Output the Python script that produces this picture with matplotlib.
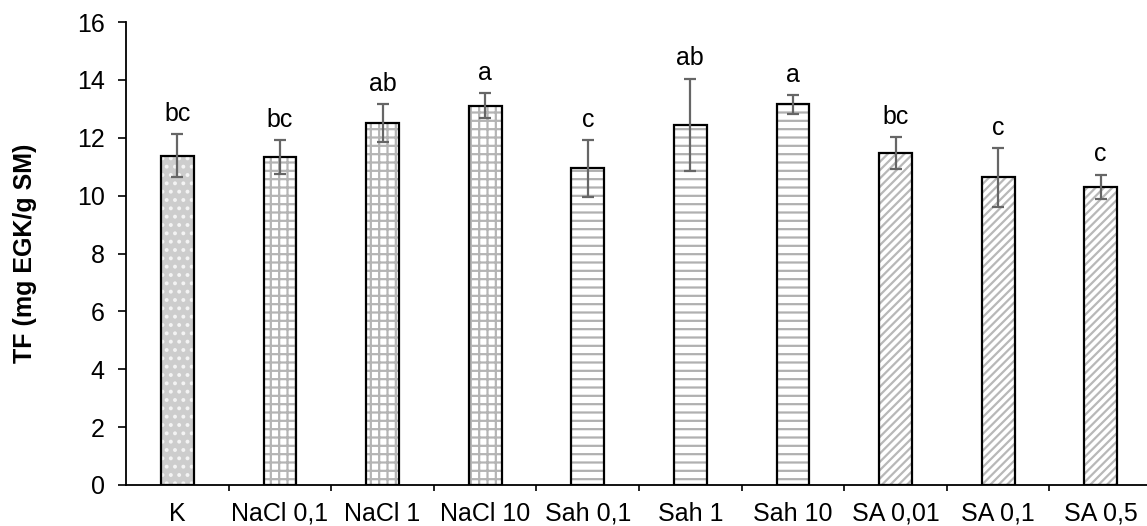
import matplotlib

matplotlib.use("Agg")
import matplotlib.pyplot as plt
import numpy as np

plt.rcParams["font.family"] = ["Liberation Sans", "DejaVu Sans"]
plt.rcParams["hatch.linewidth"] = 1.6

# Ukupni flavonoidi po tretmanu
treatments = ["K", "NaCl 0,1", "NaCl 1", "NaCl 10", "Sah 0,1", "Sah 1",
              "Sah 10", "SA 0,01", "SA 0,1", "SA 0,5"]
tf_mean = [11.38, 11.33, 12.51, 13.11, 10.94, 12.46, 13.16, 11.48, 10.63, 10.31]
tf_sd = [0.75, 0.59, 0.66, 0.44, 0.97, 1.59, 0.33, 0.55, 1.02, 0.42]
letters = ["bc", "bc", "ab", "a", "c", "ab", "a", "bc", "c", "c"]
groups = ["K", "NaCl", "NaCl", "NaCl", "Sah", "Sah", "Sah", "SA", "SA", "SA"]

# uzorak ispune po grupi: (boja pozadine, boja šrafure, šrafura)
fills = {
    "K": ("#cdcdcd", "#f4f4f4", ".."),
    "NaCl": ("white", "#b4b4b4", "++"),
    "Sah": ("white", "#b0b0b0", "--"),
    "SA": ("white", "#b8b8b8", "////"),
}

fig = plt.figure(figsize=(11.47, 5.26), dpi=100)
ax = fig.add_axes([0.1099, 0.078, 0.8945, 0.880])

x = np.arange(len(treatments))
width = 0.32

for i, g in enumerate(groups):
    face, hcol, hatch = fills[g]
    ax.bar(x[i], tf_mean[i], width, color=face, edgecolor=hcol, hatch=hatch,
           linewidth=0, zorder=2)
    ax.bar(x[i], tf_mean[i], width, fill=False, edgecolor="black",
           linewidth=1.6, zorder=3)

ax.errorbar(x, tf_mean, yerr=tf_sd, fmt="none", ecolor="#666666",
            elinewidth=1.6, capsize=4, capthick=1.6, zorder=4)

for xi, m, s, lab in zip(x, tf_mean, tf_sd, letters):
    ax.annotate(lab, (xi, m + s), xytext=(0, 9.5), textcoords="offset points",
                ha="center", va="baseline", fontsize=18)

ax.set_xlim(-0.5, len(treatments) - 0.5)
ax.set_ylim(0, 16)
ax.set_yticks(np.arange(0, 17, 2))

# podjele na x osi između stupaca, nazivi ispod sredine
ax.set_xticks(x[:-1] + 0.5)
ax.set_xticklabels([])
ax.set_xticks(x, minor=True)
ax.set_xticklabels(treatments, minor=True)
ax.tick_params(axis="x", which="major", direction="out", length=4.5, width=1.2)
ax.tick_params(axis="x", which="minor", length=0, pad=12, labelsize=18)
ax.tick_params(axis="y", direction="out", length=5.5, width=1.2, pad=10,
               labelsize=18)

for side in ["top", "right"]:
    ax.spines[side].set_visible(False)
for side in ["left", "bottom"]:
    ax.spines[side].set_linewidth(1.3)

ax.set_ylabel("TF (mg EGK/g SM)", fontsize=18, fontweight="bold")
ax.yaxis.set_label_coords(-0.087, 0.5)

fig.savefig("out.png", dpi=100)
